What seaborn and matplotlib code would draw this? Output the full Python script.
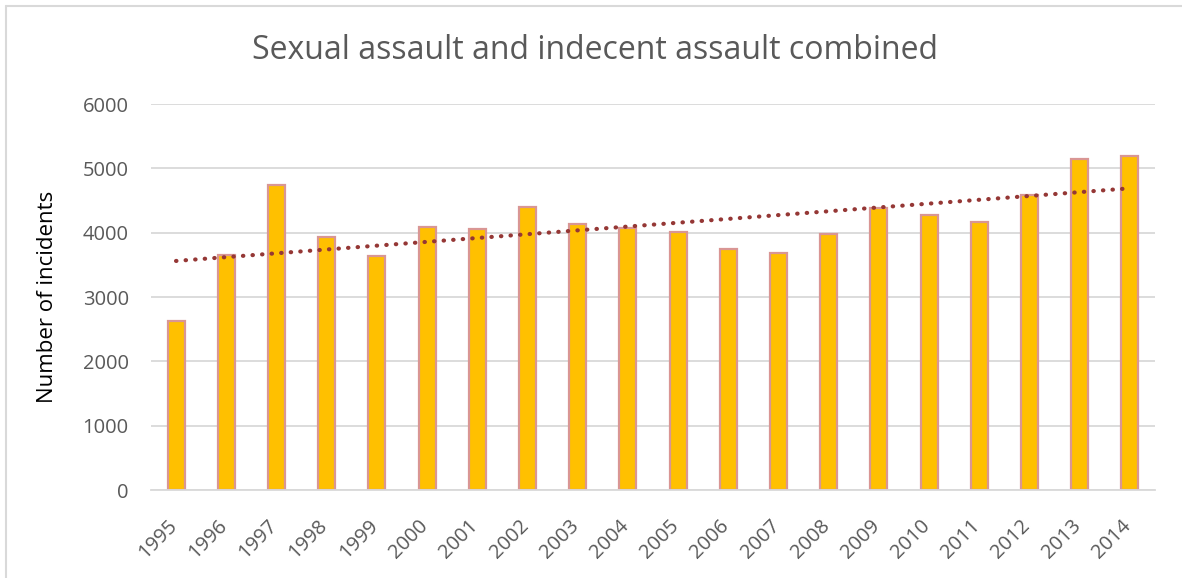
import numpy as np
import pandas as pd
import matplotlib
matplotlib.use("Agg")
import matplotlib.pyplot as plt
import matplotlib.transforms as mtransforms
from matplotlib.lines import Line2D
import seaborn as sns

# data
years = [str(y) for y in range(1995, 2015)]
incidents = [2630, 3660, 4740, 3930, 3640, 4090, 4050, 4400, 4130, 4070,
             4010, 3750, 3680, 3980, 4390, 4280, 4160, 4580, 5140, 5200]

sns.set_theme(style="white")
plt.rcParams['font.family'] = ['Open Sans', 'DejaVu Sans']

df = pd.DataFrame({'year': years, 'n': incidents})

fig = plt.figure(figsize=(11.82, 5.78), dpi=100)
ax = fig.add_axes([0.1277, 0.1522, 0.8494, 0.6678])

sns.barplot(data=df, x='year', y='n', ax=ax, color='#FFC000', saturation=1,
            width=0.34, edgecolor='#D99694', linewidth=1.6)

# linear trendline (Excel style)
xs = np.arange(len(years))
k, b = np.polyfit(xs, incidents, 1)
ax.plot(xs, k * xs + b, linestyle=(0, (0.1, 2.2)), dash_capstyle='round',
        color='#953735', linewidth=3, zorder=5)

ax.set_ylim(0, 6000)
ax.set_yticks(range(0, 6001, 1000))
ax.set_xlim(-0.5, len(years) - 0.5)
ax.yaxis.grid(True, color='#D9D9D9', linewidth=1.3)
ax.set_axisbelow(True)
for s in ['top', 'right', 'left']:
    ax.spines[s].set_visible(False)
ax.spines['bottom'].set_color('#D9D9D9')
ax.spines['bottom'].set_linewidth(1.3)

ax.tick_params(axis='both', length=0, labelsize=14.5, colors='#595959')
ax.tick_params(axis='y', pad=16)
ax.tick_params(axis='x', pad=8)
plt.xticks(rotation=45, ha='right', rotation_mode='anchor')
shift = mtransforms.ScaledTranslation(-9 / 100, -15 / 100, fig.dpi_scale_trans)
for lbl in ax.get_xticklabels():
    lbl.set_transform(lbl.get_transform() + shift)
ax.set_xlabel('')
ax.set_ylabel('Number of incidents', fontsize=16, color='black')
ax.yaxis.set_label_coords(-0.093, 0.5)
fig.suptitle('Sexual assault and indecent assault combined', fontsize=23,
             color='#595959', x=0.503, y=0.913, va='center')

# light frame (top and left edge only visible)
fig.add_artist(Line2D([6 / 1182, 1], [1 - 6 / 578, 1 - 6 / 578],
                      transform=fig.transFigure, color='#D9D9D9', linewidth=1.5))
fig.add_artist(Line2D([6 / 1182, 6 / 1182], [0, 1 - 6 / 578],
                      transform=fig.transFigure, color='#D9D9D9', linewidth=1.5))

fig.savefig('out.png', dpi=100)
